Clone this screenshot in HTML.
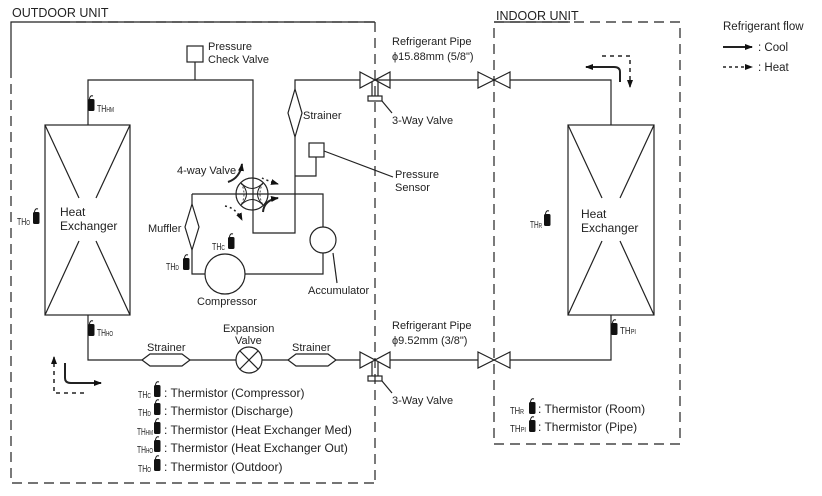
<!DOCTYPE html>
<html><head><meta charset="utf-8"><style>
html,body{margin:0;padding:0;background:#fff;}
svg{display:block;}
text{font-family:"Liberation Sans",Arial,sans-serif;fill:#222;}
</style></head><body>
<svg width="822" height="496" viewBox="0 0 822 496" xmlns="http://www.w3.org/2000/svg">
<defs>
<g id="th"><path d="M1.5 2 Q2 -2 5 -1" fill="none" stroke="#111" stroke-width="1"/><rect x="0" y="2" width="6.5" height="12" rx="1.5" fill="#111"/></g>
<marker id="ah" markerWidth="8" markerHeight="6" refX="7" refY="3" orient="auto" markerUnits="userSpaceOnUse"><path d="M0 0 L8 3 L0 6 Z" fill="#111"/></marker>
</defs>
<g fill="none" stroke="#222" stroke-width="1.2">
<path d="M11 68 V22 H375" />
<path d="M11 68 V483 H375" stroke-dasharray="10 6"/>
<path d="M60 22 H375" stroke-dasharray="10 6"/>
<path d="M375 22 V483" stroke-dasharray="10 6"/>
<path d="M494 22 H680 V444 H494 Z" stroke-dasharray="10 6"/>
<path d="M494 22 H570"/>
<rect x="45" y="125" width="85" height="190"/>
<path d="M45 125 L79 198 M130 125 L96 198 M45 315 L79 241 M130 315 L96 241"/>
<rect x="568" y="125" width="86" height="190"/>
<path d="M568 125 L602 198 M654 125 L620 198 M568 315 L602 241 M654 315 L620 241"/>
<path d="M88 125 V80 H253 V233 H295 V137 M295 89 V80 H360"/>
<path d="M195 80 V62"/>
<rect x="187" y="46" width="16" height="16"/>
<path d="M295 89 L288 113 L295 137 L302 113 Z"/>
<rect x="309" y="143" width="15" height="14"/>
<path d="M316 157 V176 H295 M324 151 L393 177"/>
<circle cx="252" cy="194" r="16"/>
<path d="M192 194 H323 V227 M323 253 V274 H245 M205 274 H192 V250 M192 204 V194"/>
<path d="M192 204 L185 227 L192 250 L199 227 Z"/>
<circle cx="225" cy="274" r="20"/>
<circle cx="323" cy="240" r="13"/>
<path d="M333 253 L337 283"/>
<path d="M241 183 Q252 194 241 205 Q252 194 263 205 Q252 194 263 183 Q252 194 241 183" stroke-width="1"/>
<path d="M241 183 Q247 194 241 205 M263 183 Q257 194 263 205" stroke-width="0.8" stroke-dasharray="2 2"/>
<path d="M228 182 Q240 178 242 164" stroke-width="2" marker-end="url(#ah)"/>
<path d="M263 212 Q264 200 278 198" stroke-width="2" marker-end="url(#ah)"/>
<path d="M262 178 Q268 181 278 184" stroke-width="1.5" stroke-dasharray="2 3" marker-end="url(#ah)"/>
<path d="M225 206 Q236 208 242 220" stroke-width="1.5" stroke-dasharray="2 3" marker-end="url(#ah)"/>
<path d="M375 80 H478 M510 80 H611 V125"/>
<path d="M360 72 L390 88 L390 72 L360 88 Z"/>
<path d="M372 82 V96 M378 82 V96"/>
<rect x="368" y="96" width="14" height="5"/>
<path d="M382 101 L392 113"/>
<path d="M478 72 L510 88 L510 72 L478 88 Z"/>
<path d="M88 315 V360 H142 M190 360 H236 M262 360 H288 M336 360 H360 M390 360 H478 M510 360 H611 V315"/>
<path d="M142 360 L150 354 H182 L190 360 L182 366 H150 Z"/>
<path d="M288 360 L296 354 H328 L336 360 L328 366 H296 Z"/>
<circle cx="249" cy="360" r="13"/>
<path d="M240 351 L258 369 M258 351 L240 369"/>
<path d="M360 352 L390 368 L390 352 L360 368 Z"/>
<path d="M372 362 V376 M378 362 V376"/>
<rect x="368" y="376" width="14" height="5"/>
<path d="M382 381 L392 393"/>
<path d="M478 352 L510 368 L510 352 L478 368 Z"/>
<path d="M65 363 V378 Q65 383 71 383 H101" stroke-width="2" marker-end="url(#ah)"/>
<path d="M84 393 H54 V357" stroke-width="1.5" stroke-dasharray="4 4" marker-end="url(#ah)"/>
<path d="M620 82 V72 Q620 67 614 67 H586" stroke-width="2" marker-end="url(#ah)"/>
<path d="M602 56 H630 V87" stroke-width="1.5" stroke-dasharray="4 4" marker-end="url(#ah)"/>
<path d="M723 47 H752" stroke-width="2" marker-end="url(#ah)"/>
<path d="M723 67 H752" stroke-width="1.5" stroke-dasharray="3 3" marker-end="url(#ah)"/>
</g>
<use href="#th" x="88" y="97"/>
<use href="#th" x="33" y="210"/>
<use href="#th" x="228" y="235"/>
<use href="#th" x="183" y="256"/>
<use href="#th" x="88" y="322"/>
<use href="#th" x="544" y="212"/>
<use href="#th" x="611" y="321"/>
<g font-size="10" font-family="Liberation Serif,serif">
<text x="97" y="112" textLength="17" lengthAdjust="spacingAndGlyphs">TH<tspan font-size="7">HM</tspan></text>
<text x="17" y="225" textLength="13" lengthAdjust="spacingAndGlyphs">TH<tspan font-size="7">O</tspan></text>
<text x="212" y="250" textLength="13" lengthAdjust="spacingAndGlyphs">TH<tspan font-size="7">C</tspan></text>
<text x="166" y="270" textLength="13" lengthAdjust="spacingAndGlyphs">TH<tspan font-size="7">D</tspan></text>
<text x="97" y="336" textLength="16" lengthAdjust="spacingAndGlyphs">TH<tspan font-size="7">HO</tspan></text>
<text x="530" y="228" textLength="12" lengthAdjust="spacingAndGlyphs">TH<tspan font-size="7">R</tspan></text>
<text x="620" y="334" textLength="16" lengthAdjust="spacingAndGlyphs">TH<tspan font-size="7">PI</tspan></text>
</g>
<g font-size="11">
<text x="12" y="17" font-size="12.5">OUTDOOR UNIT</text>
<text x="496" y="20" font-size="12.5">INDOOR UNIT</text>
<text x="723" y="30" font-size="11.5">Refrigerant flow</text>
<text x="758" y="51" font-size="11.5">: Cool</text>
<text x="758" y="71" font-size="11.5">: Heat</text>
<text x="208" y="50">Pressure</text>
<text x="208" y="63">Check Valve</text>
<text x="303" y="119">Strainer</text>
<text x="392" y="45">Refrigerant Pipe</text>
<text x="392" y="60">ϕ15.88mm (5/8")</text>
<text x="392" y="124">3-Way Valve</text>
<text x="395" y="178">Pressure</text>
<text x="395" y="191">Sensor</text>
<text x="177" y="174">4-way Valve</text>
<text x="148" y="232">Muffler</text>
<text x="197" y="305">Compressor</text>
<text x="308" y="294">Accumulator</text>
<text x="60" y="216" font-size="12">Heat</text>
<text x="60" y="230" font-size="12">Exchanger</text>
<text x="581" y="218" font-size="12">Heat</text>
<text x="581" y="232" font-size="12">Exchanger</text>
<text x="147" y="351">Strainer</text>
<text x="223" y="332">Expansion</text>
<text x="235" y="344">Valve</text>
<text x="292" y="351">Strainer</text>
<text x="392" y="329">Refrigerant Pipe</text>
<text x="392" y="344">ϕ9.52mm (3/8")</text>
<text x="392" y="404">3-Way Valve</text>
</g>
<g>
<use href="#th" x="154" y="383"/><use href="#th" x="154" y="401"/><use href="#th" x="154" y="420"/><use href="#th" x="154" y="438"/><use href="#th" x="154" y="457"/>
<use href="#th" x="529" y="400"/><use href="#th" x="529" y="418"/>
</g>
<g font-size="10" font-family="Liberation Serif,serif">
<text x="138" y="398" textLength="13" lengthAdjust="spacingAndGlyphs">TH<tspan font-size="7">C</tspan></text>
<text x="138" y="416" textLength="13" lengthAdjust="spacingAndGlyphs">TH<tspan font-size="7">D</tspan></text>
<text x="137" y="435" textLength="16" lengthAdjust="spacingAndGlyphs">TH<tspan font-size="7">HM</tspan></text>
<text x="137" y="453" textLength="16" lengthAdjust="spacingAndGlyphs">TH<tspan font-size="7">HO</tspan></text>
<text x="138" y="472" textLength="13" lengthAdjust="spacingAndGlyphs">TH<tspan font-size="7">O</tspan></text>
<text x="510" y="414" textLength="14" lengthAdjust="spacingAndGlyphs">TH<tspan font-size="7">R</tspan></text>
<text x="510" y="432" textLength="16" lengthAdjust="spacingAndGlyphs">TH<tspan font-size="7">PI</tspan></text>
</g>
<g font-size="12">
<text x="164" y="397">: Thermistor (Compressor)</text>
<text x="164" y="415">: Thermistor (Discharge)</text>
<text x="164" y="434">: Thermistor (Heat Exchanger Med)</text>
<text x="164" y="452">: Thermistor (Heat Exchanger Out)</text>
<text x="164" y="471">: Thermistor (Outdoor)</text>
<text x="538" y="413">: Thermistor (Room)</text>
<text x="538" y="431">: Thermistor (Pipe)</text>
</g>
</svg>
</body></html>
